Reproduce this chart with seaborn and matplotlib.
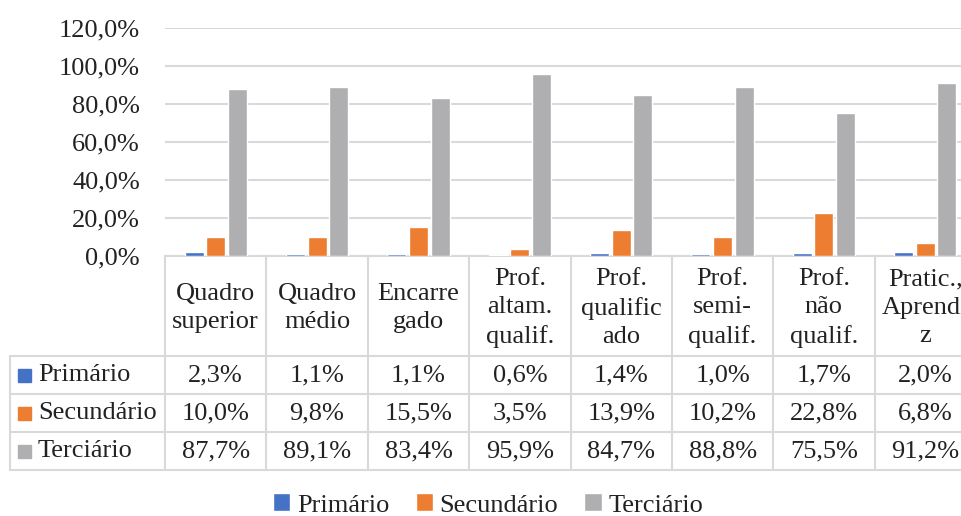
# Recreate: educational level by professional category (Excel-style chart with data table)
import numpy as np
import pandas as pd
import matplotlib.pyplot as plt
import seaborn as sns
from matplotlib.transforms import blended_transform_factory
from matplotlib.patches import Patch, Rectangle

# Data
categorias = ['Quadro\nsuperior', 'Quadro\nmédio', 'Encarre\ngado',
              'Prof.\naltam.\nqualif.', 'Prof.\nqualific\nado',
              'Prof.\nsemi-\nqualif.', 'Prof.\nnão\nqualif.',
              'Pratic.,\nAprendi\nz']
niveis = ['Primário', 'Secundário', 'Terciário']
primario = [2.3, 1.1, 1.1, 0.6, 1.4, 1.0, 1.7, 2.0]
secundario = [10.0, 9.8, 15.5, 3.5, 13.9, 10.2, 22.8, 6.8]
terciario = [87.7, 89.1, 83.4, 95.9, 84.7, 88.8, 75.5, 91.2]
y_ticks = [0, 20, 40, 60, 80, 100, 120]

cores = ['#4472C4', '#ED7D31', '#AFAFB1']
cinza = '#D9D9D9'

df = pd.DataFrame({
    'categoria': categorias * 3,
    'nivel': np.repeat(niveis, len(categorias)),
    'valor': primario + secundario + terciario,
})


def pct(v):
    return f'{v:.1f}%'.replace('.', ',')


sns.set_theme(style='white')
plt.rcParams['font.family'] = ['Liberation Serif', 'DejaVu Serif']
FS = 19

W, H = 961, 516


def fy(py):
    return 1 - py / H


fig = plt.figure(figsize=(W / 100, H / 100), dpi=100)
ax = fig.add_axes([165 / W, fy(256), (976 - 165) / W, (256 - 28) / H])

sns.barplot(data=df, x='categoria', y='valor', hue='nivel', palette=cores,
            width=0.64, gap=0.12, saturation=1, legend=False, ax=ax)

ax.set_xlim(-0.5, len(categorias) - 0.5)
ax.set_ylim(0, 120)
ax.set_yticks(y_ticks)
ax.set_yticklabels([pct(v) for v in y_ticks])
ax.set_xticks([])
ax.set_xlabel('')
ax.set_ylabel('')
ax.tick_params(axis='y', length=0, pad=18, labelsize=FS, labelcolor='#222222')
ax.grid(axis='y', color=cinza, lw=1.5)
ax.set_axisbelow(True)
for s in ['left', 'top', 'right']:
    ax.spines[s].set_visible(False)
ax.spines['bottom'].set_color(cinza)
ax.spines['bottom'].set_linewidth(1.5)
ax.spines['bottom'].set_zorder(0.5)

# Data table below the chart
trans = blended_transform_factory(ax.transData, fig.transFigure)
for i in range(len(categorias) + 1):
    ax.plot([i - 0.5, i - 0.5], [fy(256), fy(470)], transform=trans,
            color=cinza, lw=1.5, clip_on=False)
for yl in [356, 394, 432, 470]:
    ax.plot([10 / W, 1.02], [fy(yl), fy(yl)], transform=fig.transFigure,
            color=cinza, lw=1.5, clip_on=False)
ax.plot([10 / W, 10 / W], [fy(356), fy(470)], transform=fig.transFigure,
        color=cinza, lw=1.5, clip_on=False)

for i, cat in enumerate(categorias):
    ax.text(i, fy(308), cat, transform=trans, ha='center', va='center',
            fontsize=FS, linespacing=1.36, color='#222222', clip_on=False)

linhas = [primario, secundario, terciario]
for yc, nome, vals, cor in zip([375, 413, 451], niveis, linhas, cores):
    fig.add_artist(Rectangle((18 / W, fy(yc + 6.5)), 13 / W, 13 / H,
                             transform=fig.transFigure, color=cor))
    fig.text(38 / W, fy(yc), nome, ha='left', va='center', fontsize=FS,
             color='#222222')
    for i, v in enumerate(vals):
        ax.text(i, fy(yc), pct(v), transform=trans, ha='center', va='center',
                fontsize=FS, color='#222222', clip_on=False)

# Legend
handles = [Patch(facecolor=c) for c in cores]
fig.legend(handles, niveis, loc='center', bbox_to_anchor=(488 / W, fy(505)),
           ncol=3, frameon=False, fontsize=FS, handlelength=0.65,
           handleheight=0.65, handletextpad=0.25, columnspacing=1.0,
           borderpad=0.1, labelcolor='#222222')

fig.savefig('out.png', dpi=100)
